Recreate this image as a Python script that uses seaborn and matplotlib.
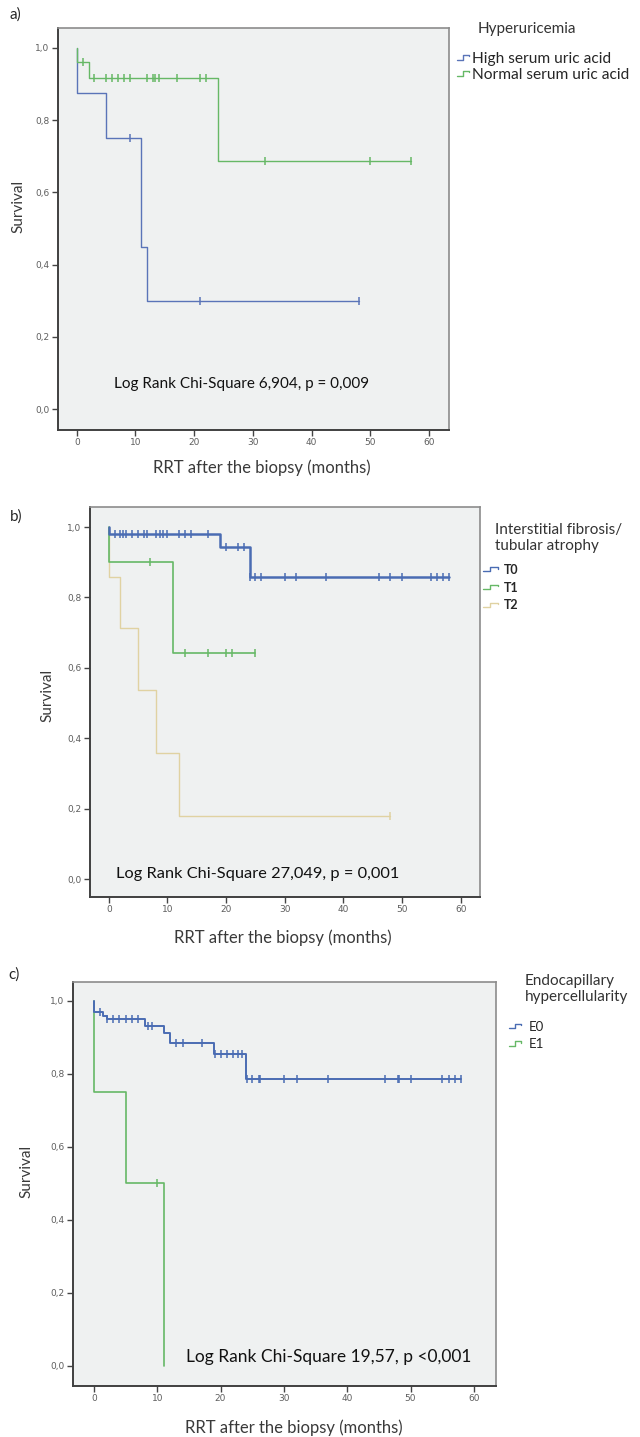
import numpy as np
import pandas as pd
import matplotlib
matplotlib.use("Agg")
import matplotlib.pyplot as plt
from matplotlib.lines import Line2D
from matplotlib.legend_handler import HandlerBase
import seaborn as sns

# ---------------- data ----------------
# Panel a: Hyperuricemia
a_high_t = [0, 0, 5, 11, 12, 48]
a_high_s = [1.0, 0.875, 0.75, 0.45, 0.30, 0.30]
a_high_c = [9, 21, 48]
a_norm_t = [0, 0, 2, 24, 57]
a_norm_s = [1.0, 0.962, 0.917, 0.687, 0.687]
a_norm_c = [1, 3, 5, 6, 7, 8, 9, 12, 13, 13.3, 14, 17, 21, 22, 32, 50, 57]

# Panel b: Interstitial fibrosis / tubular atrophy
b_t0_t = [0, 0, 19, 24, 58]
b_t0_s = [1.0, 0.981, 0.944, 0.857, 0.857]
b_t0_c = [1, 2, 2.5, 3, 4, 5, 6, 6.5, 8, 8.7, 9.3, 10, 12, 13, 14, 17,
          20, 22, 23, 24.1, 25, 26, 30, 32, 37, 46, 48, 50, 55, 56, 57, 58]
b_t1_t = [0, 0, 11, 25]
b_t1_s = [1.0, 0.90, 0.643, 0.643]
b_t1_c = [7, 13, 17, 20, 21, 25]
b_t2_t = [0, 0, 2, 5, 8, 12, 48]
b_t2_s = [1.0, 0.857, 0.714, 0.536, 0.357, 0.179, 0.179]
b_t2_c = [48]

# Panel c: Endocapillary hypercellularity
c_e0_t = [0, 0, 1.5, 2, 8, 11, 12, 19, 24, 58]
c_e0_s = [1.0, 0.969, 0.960, 0.951, 0.932, 0.911, 0.884, 0.855, 0.786, 0.786]
c_e0_c = [0.9, 2.1, 3, 4, 5, 6, 7, 8.6, 9.1, 12.9, 14, 17, 19.2, 20, 21, 22,
          22.8, 23.4, 24.1, 25, 26, 26.2, 30, 32, 37, 46, 48, 48.2, 50, 55, 56, 57, 58]
c_e1_t = [0, 0, 5, 11, 11]
c_e1_s = [1.0, 0.75, 0.50, 0.50, 0.0]
c_e1_c = [10]

x_ticks = [0, 10, 20, 30, 40, 50, 60]
y_ticks = [0.0, 0.2, 0.4, 0.6, 0.8, 1.0]
y_tick_labels = ["0,0", "0,2", "0,4", "0,6", "0,8", "1,0"]

BLUE = "#4a6cb3"
GREEN = "#66b866"
BEIGE = "#e0d2a2"

sns.set_theme(style="white")
plt.rcParams["font.family"] = ["Lato", "DejaVu Sans"]

W, H = 640, 1437
fig = plt.figure(figsize=(W / 100, H / 100), dpi=100)


def frac_rect(l, t, r, b):
    return [l / W, 1 - b / H, (r - l) / W, (b - t) / H]


class StepHandler(HandlerBase):
    def create_artists(self, legend, orig_handle, xdescent, ydescent,
                       width, height, fontsize, trans):
        xs = np.array([0.0, 0.45, 0.45, 0.9, 0.9]) * width - xdescent
        ys = np.array([0.3, 0.3, 0.75, 0.75, 0.6]) * height - ydescent
        ln = Line2D(xs, ys, color=orig_handle.get_color(), lw=1.0)
        ln.set_transform(trans)
        return [ln]


def draw_curve(ax, t, s, cens, color, lw):
    df = pd.DataFrame({"t": t, "s": s})
    sns.lineplot(data=df, x="t", y="s", ax=ax, sort=False, estimator=None,
                 drawstyle="steps-post", color=color, lw=lw)
    ta = np.asarray(t, float)
    sa = np.asarray(s, float)
    idx = np.searchsorted(ta, np.asarray(cens, float), side="right") - 1
    idx = np.clip(idx, 0, len(sa) - 1)
    cy = []
    for i in idx:
        j = i
        while j > 0 and ta[j] == ta[j - 1] and sa[j] == 0.0:
            j -= 1
        cy.append(sa[j])
    cdf = pd.DataFrame({"t": cens, "s": cy})
    sns.scatterplot(data=cdf, x="t", y="s", ax=ax, marker="|", s=40,
                    color=color, linewidth=1.1, zorder=3)


def style_axes(ax, xlim, ylim, ylab_xy, xlab_xy):
    ax.set_facecolor("#eff1f1")
    ax.set_xlim(*xlim)
    ax.set_ylim(*ylim)
    ax.set_xticks(x_ticks)
    ax.set_xticklabels([str(v) for v in x_ticks])
    ax.set_yticks(y_ticks)
    ax.set_yticklabels(y_tick_labels)
    ax.tick_params(axis="both", which="major", direction="out", length=4,
                   width=1.0, color="#444444", labelsize=6.5,
                   labelcolor="#5e5e5e", pad=2, bottom=True, left=True)
    for lab in ax.get_xticklabels() + ax.get_yticklabels():
        lab.set_family(["DejaVu Sans"])
    for side in ["left", "bottom"]:
        ax.spines[side].set_color("#404040")
        ax.spines[side].set_linewidth(1.4)
    for side in ["top", "right"]:
        ax.spines[side].set_color("#8c8c8c")
        ax.spines[side].set_linewidth(1.2)
    ax.set_ylabel("Survival", fontsize=11, color="#3a3a3a", va="center")
    ax.yaxis.set_label_coords(*ylab_xy)
    ax.set_xlabel("RRT after the biopsy (months)", fontsize=12,
                  color="#3a3a3a", va="center")
    ax.xaxis.set_label_coords(*xlab_xy)


# ---------------- panel a ----------------
axa = fig.add_axes(frac_rect(58, 28, 449, 430))
draw_curve(axa, a_high_t, a_high_s, a_high_c, "#5a74b8", 1.0)
draw_curve(axa, a_norm_t, a_norm_s, a_norm_c, GREEN, 1.0)
style_axes(axa, (-3.2, 63.4), (-0.058, 1.055), (-0.102, 0.555), (0.522, -0.095))
axa.text(28.1, 0.069, "Log Rank Chi-Square 6,904, p = 0,009", ha="center",
         va="center", fontsize=11, color="#111111")
fig.text(10 / W, 1 - 15 / H, "a)", fontsize=11, va="center", ha="left")
fig.text(478 / W, 1 - 29 / H, "Hyperuricemia", fontsize=11, va="center",
         ha="left", color="#333333")
ha_handles = [Line2D([], [], color="#5a74b8"), Line2D([], [], color=GREEN)]
fig.legend(ha_handles, ["High serum uric acid", "Normal serum uric acid"],
           loc="upper left", bbox_to_anchor=(457 / W, 1 - 52 / H),
           bbox_transform=fig.transFigure, frameon=False, fontsize=11.2,
           borderpad=0, borderaxespad=0, handlelength=0.85, handletextpad=0.1,
           labelspacing=0.13, handler_map={Line2D: StepHandler()})

# ---------------- panel b ----------------
axb = fig.add_axes(frac_rect(90, 507, 480, 897))
draw_curve(axb, b_t2_t, b_t2_s, b_t2_c, BEIGE, 1.0)
draw_curve(axb, b_t1_t, b_t1_s, b_t1_c, GREEN, 1.2)
draw_curve(axb, b_t0_t, b_t0_s, b_t0_c, BLUE, 1.8)
style_axes(axb, (-3.2, 63.3), (-0.051, 1.057), (-0.108, 0.518), (0.495, -0.105))
axb.text(25.4, 0.014, "Log Rank Chi-Square 27,049, p = 0,001", ha="center",
         va="center", fontsize=11.8, color="#111111")
fig.text(10 / W, 1 - 517 / H, "b)", fontsize=11, va="center", ha="left")
fig.text(495 / W, 1 - 523 / H, "Interstitial fibrosis/\ntubular atrophy",
         fontsize=11, va="top", ha="left", color="#333333", linespacing=1.15)
hb = [Line2D([], [], color=BLUE), Line2D([], [], color=GREEN),
      Line2D([], [], color=BEIGE)]
fig.legend(hb, ["T0", "T1", "T2"], loc="upper left",
           bbox_to_anchor=(483 / W, 1 - 564 / H), bbox_transform=fig.transFigure,
           frameon=False, borderpad=0, borderaxespad=0,
           handlelength=1.3, handletextpad=0.4, labelspacing=0.45,
           prop={"weight": "bold", "size": 9},
           handler_map={Line2D: StepHandler()})

# ---------------- panel c ----------------
axc = fig.add_axes(frac_rect(73, 982, 496, 1386))
draw_curve(axc, c_e1_t, c_e1_s, c_e1_c, GREEN, 1.2)
draw_curve(axc, c_e0_t, c_e0_s, c_e0_c, BLUE, 1.4)
style_axes(axc, (-3.3, 63.5), (-0.055, 1.052), (-0.109, 0.53), (0.522, -0.104))
axc.text(37.1, 0.025, "Log Rank Chi-Square 19,57, p <0,001", ha="center",
         va="center", fontsize=12.5, color="#111111")
fig.text(8 / W, 1 - 975 / H, "c)", fontsize=11, va="center", ha="left")
fig.text(525 / W, 1 - 974 / H, "Endocapillary\nhypercellularity",
         fontsize=11, va="top", ha="left", color="#333333", linespacing=1.2)
hc = [Line2D([], [], color=BLUE), Line2D([], [], color=GREEN)]
fig.legend(hc, ["E0", "E1"], loc="upper left",
           bbox_to_anchor=(509 / W, 1 - 1021 / H), bbox_transform=fig.transFigure,
           frameon=False, borderpad=0, borderaxespad=0,
           handlelength=1.0, handletextpad=0.5, labelspacing=0.4,
           prop={"size": 9.5}, handler_map={Line2D: StepHandler()})

fig.savefig("out.png", dpi=100, facecolor="white")
